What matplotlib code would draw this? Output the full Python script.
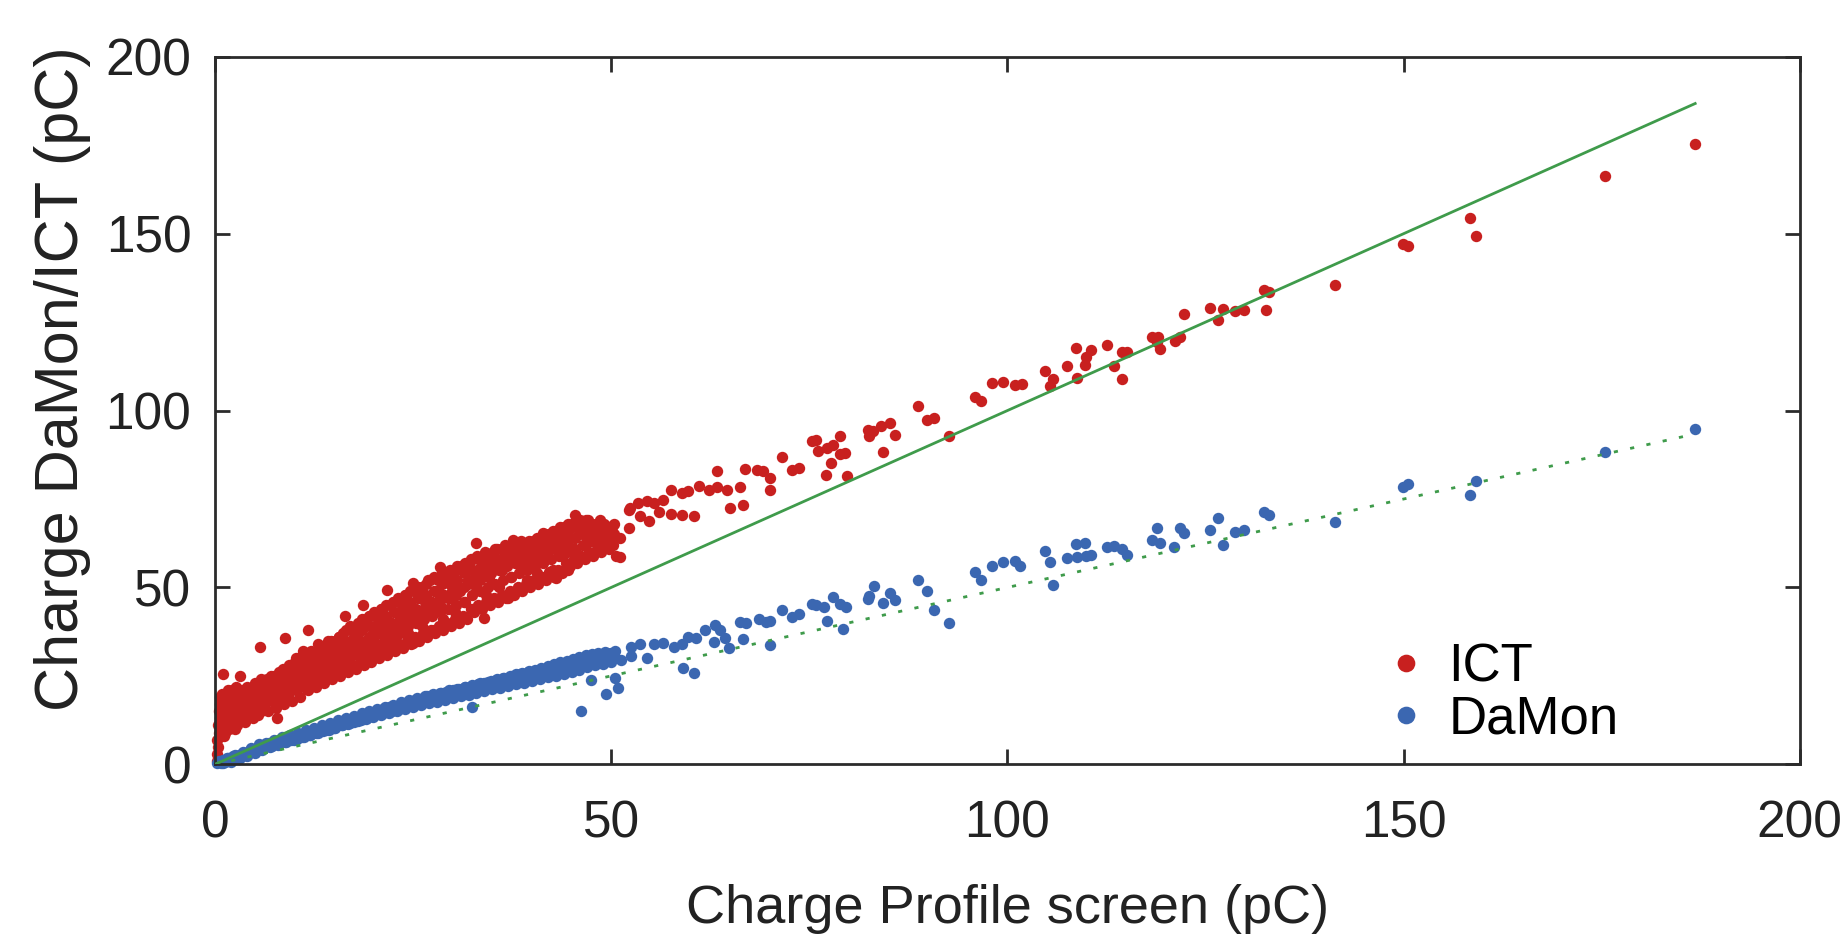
import matplotlib
matplotlib.use('Agg')
import matplotlib.pyplot as plt

# ICT charge vs profile screen charge (pC), dense part x < 51
ict_dense = [
    (0.2, 1), (0.3, 3), (0.4, 5), (0.3, 7), (0.5, 9), (0.4, 11), (0.6, 13), (0.5, 15),
    (0.7, 17), (0.6, 19), (0.9, 20), (1.0, 25.6), (0.8, 12), (1.0, 16), (1.2, 8),
    (1.1, 14), (1.3, 18), (1.4, 20), (1.5, 11), (1.8, 15), (2.0, 13), (2.2, 17),
    (2.4, 20), (2.5, 10), (2.7, 15), (3.0, 18), (3.2, 25), (3.2, 21), (3.4, 13),
    (3.6, 16), (3.8, 19), (4.0, 14), (4.2, 21), (4.4, 17), (4.6, 15), (4.8, 20),
    (5.0, 18), (5.2, 22), (5.4, 14), (5.7, 33.3), (5.6, 19), (5.8, 24), (6.0, 16),
    (6.3, 21), (6.6, 18), (6.9, 23), (7.2, 20), (7.5, 25), (7.8, 13), (7.8, 17),
    (8.1, 22), (8.4, 26), (8.8, 35.7), (8.7, 19), (9.0, 24), (9.3, 28), (9.6, 21),
    (9.9, 26), (10.2, 30), (10.5, 23), (10.8, 27), (11.1, 32), (11.4, 25), (11.8, 38),
    (11.7, 29), (12.0, 22), (12.3, 31), (12.6, 27), (12.8, 24.8), (13.0, 34), (13.3, 29),
    (13.6, 32), (14.0, 26), (14.3, 35), (14.6, 30), (15.0, 33), (15.3, 28), (15.6, 36),
    (16.0, 31), (16.4, 41.8), (16.4, 34), (16.8, 29), (17.2, 38), (17.5, 33), (17.9, 36),
    (18.3, 31), (18.7, 45), (18.7, 39), (19.1, 31.4), (19.1, 35), (19.5, 42), (19.9, 37),
    (20.3, 33), (20.6, 40), (21.0, 44), (21.3, 36), (21.7, 49.3), (21.7, 41), (22.1, 38),
    (22.5, 46), (22.8, 35), (23.2, 43), (23.6, 40), (24.0, 48), (24.3, 37), (24.7, 45),
    (25.0, 51.2), (25.0, 34.3), (25.3, 42), (25.7, 48), (26.1, 39), (26.5, 46), (26.9, 52),
    (27.2, 43), (27.6, 38), (28.0, 49), (28.4, 55.9), (28.4, 45), (28.8, 41), (29.2, 52),
    (29.6, 47), (30.0, 54), (30.3, 43), (30.7, 50), (31.1, 56), (31.5, 46), (31.9, 52),
    (32.3, 58), (32.6, 44), (33.0, 62.5), (33.0, 50), (33.4, 55), (33.9, 41.3), (33.8, 59),
    (34.2, 48), (34.6, 53), (35.0, 57), (35.4, 61), (35.8, 50), (36.2, 55), (36.3, 47.5),
    (36.6, 59), (37.0, 47), (37.2, 48.4), (37.4, 53), (37.6, 63.5), (37.8, 58), (38.2, 61),
    (38.5, 49.3), (38.6, 55), (39.0, 59), (39.4, 52), (39.8, 62), (40.2, 57), (40.6, 54),
    (41.0, 60), (41.4, 65.4), (41.8, 58), (42.1, 54.5), (42.2, 63), (42.6, 55), (43.1, 52.6),
    (43.0, 61), (43.4, 66), (43.8, 59), (44.2, 64), (44.6, 55.0), (44.6, 62), (45.0, 67),
    (45.4, 70.5), (45.6, 60), (46.0, 68), (46.4, 65), (46.8, 69), (47.2, 63), (47.6, 67),
    (48.0, 66), (48.6, 69.1), (48.4, 62), (48.8, 65), (49.2, 67), (49.6, 64), (50.0, 66),
    (50.6, 58.9), (50.4, 68),
]

# more ICT shots inside the dense band: (x, y_low, y_mid, y_high)
ict_band = [
    (1.25, 9, 15, 20), (1.75, 10, 17, 21), (2.25, 12, 16, 21), (2.75, 11, 19, 22),
    (3.25, 14, 17, 20), (3.75, 12, 18, 21), (4.25, 15, 19, 22), (4.75, 13, 17, 21),
    (5.25, 16, 20, 23), (5.75, 15, 18, 22), (6.25, 17, 20, 23), (6.75, 15, 21, 24),
    (7.25, 18, 22, 25), (7.75, 16, 20, 24), (8.25, 18, 23, 26), (8.75, 17, 22, 27),
    (9.25, 20, 24, 27), (9.75, 18, 23, 28), (10.25, 21, 25, 29), (10.75, 19, 24, 30),
    (11.25, 22, 27, 30), (11.75, 21, 26, 31), (12.25, 23, 28, 32), (12.75, 22, 26, 31),
    (13.25, 24, 29, 33), (13.75, 23, 28, 33), (14.25, 25, 30, 34), (14.75, 24, 29, 35),
    (15.25, 26, 31, 35), (15.75, 25, 30, 36), (16.25, 27, 33, 37), (16.75, 26, 32, 38),
    (17.25, 28, 34, 39), (17.75, 27, 33, 38), (18.25, 29, 35, 40), (18.75, 28, 34, 41),
    (19.25, 30, 36, 41), (19.75, 29, 35, 42), (20.25, 31, 37, 43), (20.75, 30, 38, 42),
    (21.25, 32, 39, 44), (21.75, 31, 38, 45), (22.25, 33, 40, 45), (22.75, 32, 39, 46),
    (23.25, 34, 41, 47), (23.75, 33, 42, 46), (24.25, 35, 43, 48), (24.75, 34, 41, 49),
    (25.25, 36, 44, 49), (25.75, 35, 43, 50), (26.25, 37, 44, 50), (26.75, 36, 45, 51),
    (27.25, 38, 46, 52), (27.75, 37, 45, 53), (28.25, 39, 47, 52), (28.75, 38, 48, 54),
    (29.25, 40, 47, 53), (29.75, 39, 49, 55), (30.25, 41, 48, 54), (30.75, 40, 49, 56),
    (31.25, 42, 50, 55), (31.75, 41, 51, 57), (32.25, 44, 52, 56), (32.75, 43, 53, 58),
    (33.25, 45, 52, 59), (33.75, 44, 54, 58), (34.25, 46, 55, 60), (34.75, 45, 54, 59),
    (35.25, 47, 56, 60), (35.75, 46, 55, 61), (36.25, 48, 57, 61), (36.75, 47, 56, 62),
    (37.25, 49, 58, 61), (37.75, 48, 57, 62), (38.25, 50, 58, 62), (38.75, 49, 57, 63),
    (39.25, 51, 59, 62), (39.75, 50, 58, 63), (40.25, 52, 60, 63), (40.75, 51, 59, 64),
    (41.25, 53, 61, 64), (41.75, 52, 60, 65), (42.25, 54, 62, 65), (42.75, 53, 61, 66),
    (43.25, 55, 63, 66), (43.75, 54, 62, 67), (44.25, 57, 63, 67), (44.75, 56, 64, 68),
    (45.25, 58, 64, 68), (45.75, 57, 65, 69), (46.25, 59, 66, 69), (46.75, 58, 65, 68),
    (47.25, 60, 66, 69), (47.75, 59, 65, 68), (48.25, 61, 66, 68), (48.75, 60, 64, 67),
    (49.25, 62, 65, 68), (49.75, 61, 64, 67), (50.25, 62, 65, 67),
]

# in-between ICT shots: (x, y_a, y_b)
ict_band2 = [
    (1.5, 12, 18), (2.5, 14, 20), (3.5, 15, 19), (4.5, 16, 21), (5.5, 17, 21), (6.5, 18, 22),
    (7.5, 19, 23), (8.5, 20, 25), (9.5, 21, 26), (10.5, 22, 28), (11.5, 24, 29),
    (12.5, 25, 30), (13.5, 26, 31), (14.5, 27, 32), (15.5, 28, 33), (16.5, 29, 35),
    (17.5, 31, 36), (18.5, 31, 38), (19.5, 33, 39), (20.5, 34, 40), (21.5, 35, 42),
    (22.5, 36, 43), (23.5, 37, 44), (24.5, 39, 46), (25.5, 40, 47), (26.5, 41, 48),
    (27.5, 42, 49), (28.5, 43, 51), (29.5, 44, 51), (30.5, 45, 52), (31.5, 46, 54),
    (32.5, 48, 55), (33.5, 49, 56), (34.5, 50, 57), (35.5, 51, 58), (36.5, 52, 59),
    (37.5, 53, 60), (38.5, 54, 60), (39.5, 55, 61), (40.5, 56, 62), (41.5, 57, 62),
    (42.5, 58, 63), (43.5, 59, 64), (44.5, 60, 66), (45.5, 61, 67), (46.5, 62, 67),
    (47.5, 63, 67), (48.5, 63, 67), (49.5, 63, 66),
]

ict_sparse = [
    (51.1, 63.9), (51.1, 58.7), (52.2, 71.9), (52.3, 66.9), (52.4, 72.4), (53.4, 73.9),
    (53.6, 70.2), (54.5, 74.3), (54.8, 68.7), (55.4, 73.8), (56.0, 71.3), (56.6, 74.8),
    (57.6, 77.6), (57.6, 70.8), (58.9, 76.6), (58.9, 70.5), (59.7, 77.2), (60.4, 70.1),
    (61.1, 78.7), (62.3, 77.6), (63.3, 78.4), (63.4, 82.8), (64.6, 77.6), (65.0, 72.4),
    (66.2, 78.5), (66.6, 73.4), (66.9, 83.4), (68.4, 83.3), (69.2, 82.8), (70.0, 80.9),
    (70.0, 77.6), (71.5, 87.0), (72.8, 83.3), (73.7, 83.9), (75.3, 91.3), (75.9, 91.6),
    (76.1, 88.7), (77.2, 89.3), (78.0, 90.3), (78.9, 92.7), (78.9, 87.8), (79.5, 88.1),
    (77.7, 85.1), (77.1, 81.8), (79.7, 81.6), (82.4, 94.6), (83.1, 94.2), (84.1, 95.7),
    (85.2, 96.4), (85.8, 93.1), (82.6, 92.9), (84.3, 88.4), (88.7, 101.3), (89.8, 97.2),
    (90.7, 97.9), (92.6, 92.9), (95.9, 103.7), (96.7, 102.8), (98.1, 107.9), (99.5, 108.2),
    (101.0, 107.1), (101.8, 107.6), (104.7, 111.3), (105.7, 109.0), (105.4, 107.0),
    (107.5, 112.5), (108.6, 117.8), (108.8, 109.2), (109.8, 112.9), (109.9, 115.1),
    (110.6, 117.2), (112.6, 118.5), (113.4, 112.6), (114.5, 116.5), (115.1, 116.5),
    (114.5, 109.0), (118.3, 120.8), (119.0, 120.8), (118.9, 119.5), (119.2, 117.5),
    (121.1, 119.8), (121.8, 120.9), (122.3, 127.4), (125.6, 129.0), (126.6, 125.5),
    (127.2, 128.7), (128.7, 128.2), (129.9, 128.5), (132.4, 134.0), (133.0, 133.4),
    (132.6, 128.5), (141.4, 135.5), (149.9, 147.1), (150.6, 146.6), (158.4, 154.4),
    (159.2, 149.4), (175.4, 166.4), (186.8, 175.3),
]

# DaMon charge vs profile screen charge (pC)
damon_dense = [
    (0.2, 0.3), (0.5, 0.9), (0.8, 0.4), (1.0, 1.3), (1.3, 0.8), (1.6, 1.9), (2.0, 1.3),
    (2.3, 2.3), (2.6, 1.6), (3.0, 2.7), (3.3, 2.0), (3.6, 3.3), (4.0, 2.7), (4.3, 3.7),
    (4.6, 4.7), (5.0, 3.6), (5.3, 4.6), (5.6, 5.8), (6.0, 4.5), (6.4, 5.3), (6.8, 6.1),
    (7.2, 5.3), (7.6, 6.5), (8.0, 5.8), (8.4, 7.0), (8.8, 6.2), (9.2, 7.5), (9.6, 6.9),
    (10.0, 8.0), (10.4, 7.2), (10.8, 8.6), (11.2, 7.8), (11.6, 9.1), (12.0, 8.3),
    (12.4, 9.6), (12.8, 8.8), (13.2, 10.1), (13.6, 9.3), (14.0, 10.7), (14.4, 9.8),
    (14.8, 11.2), (15.2, 10.4), (15.6, 11.9), (16.0, 11.0), (16.4, 12.4), (16.8, 11.5),
    (17.2, 12.9), (17.6, 12.0), (18.0, 13.5), (18.4, 12.6), (18.8, 14.0), (19.2, 13.1),
    (19.6, 14.5), (20.0, 13.6), (20.4, 15.0), (20.8, 14.2), (21.2, 15.7), (21.6, 14.7),
    (22.0, 16.1), (22.4, 15.2), (22.8, 16.6), (23.2, 15.7), (23.6, 17.2), (24.0, 16.3),
    (24.4, 17.7), (24.8, 16.8), (25.2, 18.2), (25.6, 17.2), (26.0, 18.6), (26.4, 17.8),
    (26.8, 19.2), (27.2, 18.2), (27.6, 19.6), (28.0, 18.7), (28.4, 20.1), (28.8, 19.1),
    (29.2, 20.5), (29.6, 19.6), (30.0, 21.0), (30.4, 20.0), (30.8, 21.4), (31.2, 20.4),
    (31.6, 21.9), (32.0, 20.9), (32.4, 16.3), (32.4, 22.2), (32.8, 21.3), (33.2, 22.7),
    (33.6, 21.8), (34.0, 23.1), (34.4, 22.2), (34.8, 23.6), (35.2, 22.7), (35.6, 24.0),
    (36.0, 23.1), (36.4, 24.5), (36.8, 23.6), (37.2, 24.9), (37.6, 24.0), (38.0, 25.4),
    (38.4, 24.5), (38.8, 25.8), (39.2, 24.9), (39.6, 26.3), (40.0, 25.4), (40.4, 26.8),
    (40.8, 25.9), (41.2, 27.3), (41.6, 26.4), (42.0, 27.8), (42.4, 26.9), (42.8, 28.3),
    (43.2, 27.4), (43.6, 28.8), (44.0, 27.9), (44.4, 29.3), (44.8, 28.4), (45.2, 29.8),
    (45.6, 28.9), (46.0, 30.3), (46.2, 15.1), (46.4, 29.4), (46.8, 30.8), (47.2, 29.8),
    (47.5, 23.9), (47.6, 31.2), (48.0, 30.2), (48.4, 31.6), (48.8, 30.6), (49.3, 19.9),
    (49.2, 31.8), (49.6, 30.4), (50.0, 31.4), (50.5, 24.5), (50.9, 21.5), (50.4, 30.6),
]

# more DaMon shots along the dense band: (x, y_low, y_high)
damon_band = [
    (1.0, 0.3, 1.8), (2.0, 0.8, 2.6), (3.0, 1.6, 3.4), (4.0, 2.4, 4.3), (5.0, 3.2, 5.2),
    (6.0, 4.0, 6.0), (7.0, 4.8, 6.8), (8.0, 5.5, 7.6), (9.0, 6.2, 8.3), (10.0, 6.9, 9.0),
    (11.0, 7.6, 9.7), (12.0, 8.3, 10.4), (13.0, 9.0, 11.1), (14.0, 9.7, 11.8),
    (15.0, 10.4, 12.5), (16.0, 11.0, 13.2), (17.0, 11.6, 13.8), (18.0, 12.2, 14.4),
    (19.0, 12.8, 15.0), (20.0, 13.4, 15.6), (21.0, 13.9, 16.3), (22.0, 14.5, 16.9),
    (23.0, 15.0, 17.5), (24.0, 15.6, 18.1), (25.0, 16.1, 18.7), (26.0, 16.7, 19.2),
    (27.0, 17.2, 19.8), (28.0, 17.7, 20.3), (29.0, 18.2, 20.9), (30.0, 18.7, 21.4),
    (31.0, 19.2, 21.9), (32.0, 19.7, 22.4), (33.0, 20.2, 22.9), (34.0, 20.7, 23.4),
    (35.0, 21.2, 23.9), (36.0, 21.7, 24.4), (37.0, 22.2, 24.9), (38.0, 22.7, 25.4),
    (39.0, 23.1, 26.0), (40.0, 23.6, 26.5), (41.0, 24.1, 27.0), (42.0, 24.6, 27.6),
    (43.0, 25.1, 28.1), (44.0, 25.6, 28.7), (45.0, 26.2, 29.2), (46.0, 26.8, 29.8),
    (47.0, 27.4, 30.4), (48.0, 28.0, 31.0), (49.0, 28.5, 31.5), (50.0, 29.0, 32.0),
]

damon_mid = [
    (1.3, 1.0), (2.3, 1.8), (3.3, 2.4), (4.3, 3.4), (5.3, 4.1), (6.3, 5.0), (7.3, 5.9),
    (8.3, 6.5), (9.3, 7.3), (10.3, 7.9), (11.3, 8.7), (12.3, 9.3), (13.3, 10.1),
    (14.3, 10.7), (15.3, 11.5), (16.3, 12.1), (17.3, 12.8), (18.3, 13.2), (19.3, 14.0),
    (20.3, 14.4), (21.3, 15.2), (22.3, 15.6), (23.3, 16.3), (24.3, 16.8), (25.3, 17.5),
    (26.3, 17.9), (27.3, 18.6), (28.3, 19.0), (29.3, 19.6), (30.3, 20.1), (31.3, 20.6),
    (32.3, 21.0), (33.3, 21.6), (34.3, 22.0), (35.3, 22.6), (36.3, 23.0), (37.3, 23.6),
    (38.3, 24.0), (39.3, 24.6), (40.3, 25.0), (41.3, 25.6), (42.3, 26.1), (43.3, 26.6),
    (44.3, 27.2), (45.3, 27.7), (46.3, 28.3), (47.3, 28.9), (48.3, 29.5), (49.3, 30.0),
    (50.3, 30.5),
]

damon_sparse = [
    (51.3, 29.5), (52.5, 33.2), (52.5, 30.6), (53.6, 34.1), (54.5, 30.0), (55.4, 34.1),
    (56.6, 34.4), (57.9, 33.2), (58.9, 34.1), (59.1, 27.2), (59.7, 36.0), (60.4, 25.8),
    (60.7, 35.7), (61.9, 38.0), (63.0, 34.7), (63.1, 39.4), (63.7, 38.0), (64.4, 35.7),
    (64.9, 32.8), (66.3, 40.1), (66.6, 35.4), (67.0, 40.0), (68.7, 41.0), (69.5, 40.1),
    (70.0, 40.5), (70.0, 33.8), (71.5, 43.7), (72.8, 41.7), (73.7, 42.4), (75.3, 45.4),
    (75.9, 45.1), (76.8, 44.5), (77.2, 40.4), (78.0, 47.3), (78.9, 45.4), (79.6, 44.5),
    (79.2, 38.2), (82.4, 46.8), (82.6, 47.6), (83.2, 50.5), (84.3, 45.7), (85.2, 48.4),
    (85.8, 46.4), (88.7, 52.0), (89.8, 49.0), (90.7, 43.5), (92.6, 39.9), (95.9, 54.5),
    (96.7, 52.0), (98.1, 56.2), (99.5, 57.3), (101.0, 57.6), (101.6, 56.1), (104.7, 60.2),
    (105.4, 57.3), (105.7, 50.7), (107.5, 58.3), (108.6, 62.3), (108.8, 58.7),
    (109.8, 62.5), (109.9, 59.0), (110.6, 59.2), (112.6, 61.4), (113.4, 61.6),
    (114.5, 60.8), (115.1, 59.2), (118.3, 63.5), (118.9, 66.9), (119.2, 62.5),
    (121.0, 61.3), (121.8, 66.9), (122.3, 65.5), (125.6, 66.3), (126.6, 69.6),
    (127.2, 62.0), (128.7, 65.8), (129.9, 66.3), (132.4, 71.2), (133.0, 70.6),
    (141.4, 68.6), (149.9, 78.3), (150.6, 79.3), (158.4, 76.2), (159.2, 80.1),
    (175.4, 88.3), (186.8, 94.8),
]

# fit lines: ICT ~ 1.0 * screen, DaMon ~ 0.5 * screen
fit_x = [0, 186.8]
fit_ict = [0, 186.8]
fit_damon = [0, 93.4]

red = '#c8201f'
blue = '#3b67b1'
green = '#3f9b4b'
dark = '#2b2b2b'
txt = '#222222'

plt.rcParams['font.family'] = ['Liberation Sans', 'DejaVu Sans']

# unpack everything into x / y lists
ict_x = [p[0] for p in ict_dense + ict_sparse]
ict_y = [p[1] for p in ict_dense + ict_sparse]
for x, lo, mid, hi in ict_band:
    ict_x += [x, x + 0.15, x - 0.15]
    ict_y += [lo, mid, hi]
for x, a, b in ict_band2:
    ict_x += [x - 0.1, x + 0.1]
    ict_y += [a, b]

damon_x = [p[0] for p in damon_dense + damon_mid + damon_sparse]
damon_y = [p[1] for p in damon_dense + damon_mid + damon_sparse]
for x, lo, hi in damon_band:
    damon_x += [x, x + 0.5]
    damon_y += [lo, hi]

fig = plt.figure(figsize=(18.45, 9.39), dpi=100)
ax = fig.add_axes([0.1165, 0.186, 0.859, 0.7535])

ax.plot(ict_x, ict_y, 'o', color=red, ms=8.2, mec='none', clip_on=False,
        label='ICT', zorder=2)
ax.plot(damon_x, damon_y, 'o', color=blue, ms=8.2, mec='none', clip_on=False,
        label='DaMon', zorder=2)

ax.plot(fit_x, fit_ict, '-', color=green, lw=2, zorder=3)
ax.plot(fit_x, fit_damon, color=green, lw=2, ls=(0, (1.5, 4.5)), zorder=3)

ax.set_xlim(0, 200)
ax.set_ylim(0, 200)
ax.set_xticks([0, 50, 100, 150, 200])
ax.set_yticks([0, 50, 100, 150, 200])

for s in ax.spines.values():
    s.set_linewidth(2)
    s.set_color(dark)
ax.tick_params(direction='in', length=11, width=2, color=dark, labelcolor=txt,
               labelsize=37, top=True, right=True)
ax.tick_params(axis='x', pad=25)
ax.tick_params(axis='y', pad=17)

ax.set_xlabel('Charge Profile screen (pC)', fontsize=39, color=txt, labelpad=26)
ax.set_ylabel('Charge DaMon/ICT (pC)', fontsize=44, color=txt)
ax.yaxis.set_label_coords(-0.078, 0.545)

ax.legend(loc='center left', bbox_to_anchor=(0.735, 0.10), frameon=False,
          fontsize=38, markerscale=1.55, handletextpad=0.3, labelspacing=0.05,
          handlelength=1.0, borderpad=0, borderaxespad=0)

fig.savefig('out.png', dpi=100)
